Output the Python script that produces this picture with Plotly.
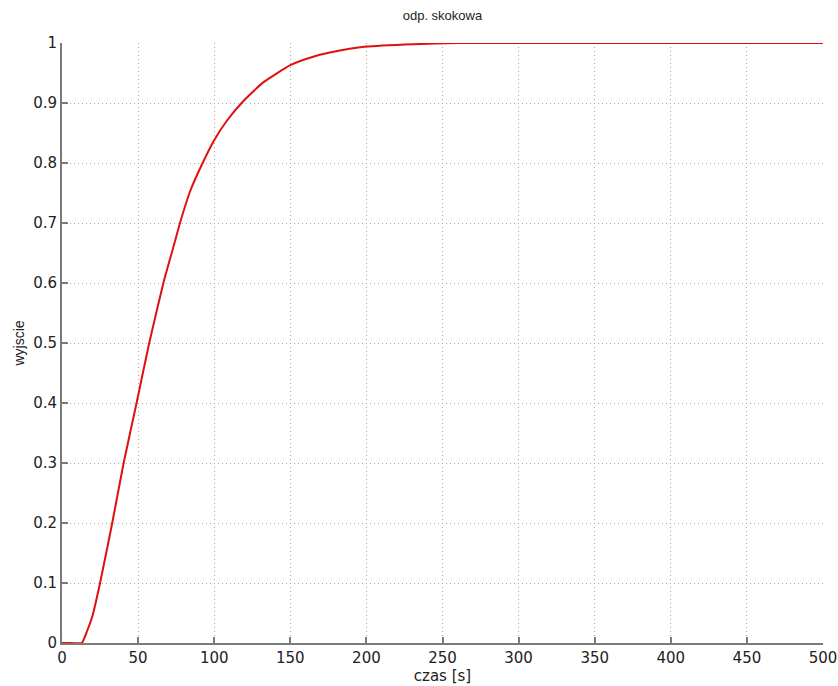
import plotly.graph_objects as go

# step response
czas = [0, 6.5, 13, 16.5, 20, 25, 33, 40.5, 49, 57.3, 66.6, 74.5, 77.5, 84.5, 92.4, 100, 108.2,
        118, 126.8, 132, 150, 165, 176, 200, 231, 260, 300, 400, 500]
wyjscie = [0, 0, 0, 0.02, 0.045, 0.1, 0.2, 0.3, 0.4, 0.5, 0.6, 0.672, 0.7, 0.755, 0.8, 0.838, 0.87,
           0.9, 0.922, 0.934, 0.963, 0.977, 0.984, 0.994, 0.998, 1.0, 1.0, 1.0, 1.0]

x_ticks = [0, 50, 100, 150, 200, 250, 300, 350, 400, 450, 500]
y_ticks = [0, 0.1, 0.2, 0.3, 0.4, 0.5, 0.6, 0.7, 0.8, 0.9, 1]
y_tick_text = ["0", "0.1", "0.2", "0.3", "0.4", "0.5", "0.6", "0.7", "0.8", "0.9", "1"]

fig = go.Figure()
fig.add_trace(go.Scatter(x=czas, y=wyjscie, mode="lines",
                         line=dict(color="#e01010", width=2, shape="spline", smoothing=0.5),
                         showlegend=False, cliponaxis=False))

tick_font = dict(family="DejaVu Sans, sans-serif", size=15, color="#222222")
label_font = "Liberation Sans, Arial, sans-serif"
axis_common = dict(
    showline=True, linecolor="#7a7a7a", linewidth=2,
    ticks="inside", ticklen=6, tickwidth=1.5, tickcolor="#7a7a7a",
    showgrid=True, gridcolor="#a8a8a8", gridwidth=1, griddash="1px,3px",
    zeroline=False, automargin=False,
    tickfont=tick_font,
)

fig.update_layout(
    width=838, height=686,
    margin=dict(l=62, r=15, t=43, b=43),
    paper_bgcolor="white", plot_bgcolor="white",
    title=dict(text="odp. skokowa", x=0.528, xanchor="center",
               yref="container", y=0.978, yanchor="middle",
               font=dict(family=label_font, size=13, color="#222222")),
    xaxis=dict(range=[0, 500], tickvals=x_ticks,
               title=dict(text="czas [s]", standoff=3,
                          font=dict(family="DejaVu Sans, sans-serif", size=15, color="#222222")),
               **axis_common),
    yaxis=dict(range=[0, 1], tickvals=y_ticks, ticktext=y_tick_text,
               title=dict(text="wyjscie", standoff=5,
                          font=dict(family=label_font, size=14, color="#222222")),
               **axis_common),
)

# remove the default 8px page margin so the figure fills the window exactly
fig.write_html("out.html",
               config={"displayModeBar": False},
               post_script="document.body.style.margin='0';document.body.style.overflow='hidden';")
